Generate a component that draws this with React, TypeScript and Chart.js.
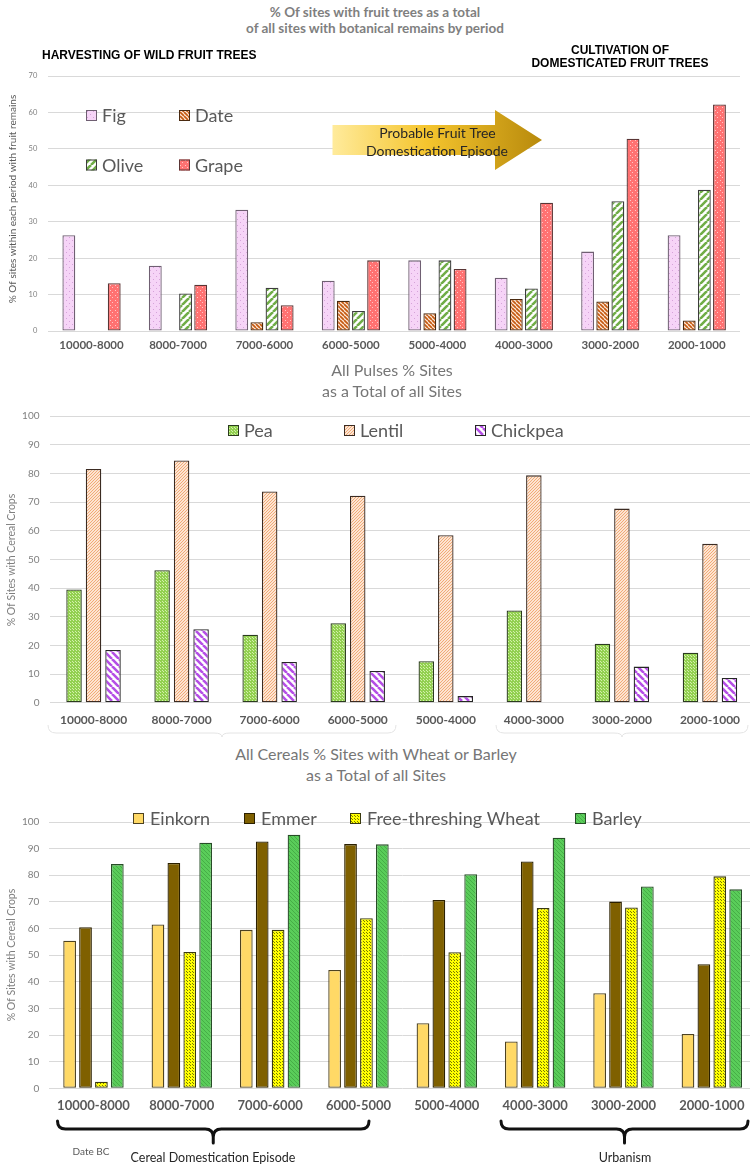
import React, { useEffect, useRef } from 'react';
import { Chart, registerables } from 'chart.js';

Chart.register(...registerables);

// ---------- data ----------
const periods = ['10000-8000', '8000-7000', '7000-6000', '6000-5000', '5000-4000', '4000-3000', '3000-2000', '2000-1000'];

const fig = [26.3, 17.9, 33.3, 13.8, 19.4, 14.6, 21.8, 26.3];
const date = [0, 0, 2.4, 8.3, 4.9, 8.8, 8.1, 2.9];
const olive = [0, 10.3, 11.9, 5.5, 19.4, 11.7, 35.6, 38.8];
const grape = [13.1, 12.7, 7.1, 19.4, 17.0, 35.2, 52.8, 62.2];

const pea = [39.5, 46.2, 23.7, 27.7, 14.5, 32.2, 20.6, 17.4];
const lentil = [81.5, 84.5, 73.7, 72.2, 58.4, 79.3, 67.7, 55.4];
const chickpea = [18.4, 25.6, 14.2, 11.1, 2.3, 0, 12.6, 8.6];

const einkorn = [55.4, 61.5, 59.5, 44.4, 24.4, 17.6, 35.7, 20.4];
const emmer = [60.5, 84.6, 92.7, 91.7, 70.7, 85.2, 70.1, 46.6];
const freeThreshing = [2.5, 51.2, 59.5, 63.9, 51.1, 67.7, 67.9, 79.6];
const barley = [84.2, 92.2, 95.2, 91.6, 80.4, 94.1, 75.8, 74.7];

const fruitMax = 70;
const pctMax = 100;
const tickStep = 10;

// ---------- helpers ----------
type Pat = { bg: string; kind: 'dots' | 'down' | 'up' | 'solid'; fg?: string; size?: number; lw?: number };

function makeFill(p: Pat): any {
  if (p.kind === 'solid') return p.bg;
  const s = p.size || 6;
  const c = document.createElement('canvas');
  c.width = s;
  c.height = s;
  const g = c.getContext('2d')!;
  g.fillStyle = p.bg;
  g.fillRect(0, 0, s, s);
  if (p.kind === 'dots') {
    g.fillStyle = p.fg!;
    g.fillRect(0, 0, 1, 1);
    g.fillRect(Math.floor(s / 2), Math.floor(s / 2), 1, 1);
  } else {
    g.strokeStyle = p.fg!;
    g.lineWidth = p.lw || 1;
    g.beginPath();
    for (let k = -1; k <= 1; k++) {
      if (p.kind === 'down') {
        g.moveTo(k * s, 0);
        g.lineTo(k * s + s, s);
      } else {
        g.moveTo(k * s, s);
        g.lineTo(k * s + s, 0);
      }
    }
    g.stroke();
  }
  return g.createPattern(c, 'repeat');
}

function ds(label: string, data: number[], fill: any, border: string) {
  return {
    label,
    data: data.map((v) => (v === 0 ? null : v)),
    backgroundColor: fill,
    borderColor: border,
    borderWidth: 1.3,
    borderSkipped: false,
  };
}

function xScale(size: number, pad: number, height: number) {
  return {
    type: 'category',
    offset: true,
    grid: { display: false, drawTicks: false },
    border: { display: false },
    ticks: { font: { family: 'Lato', size, weight: 'bold' }, color: '#595959', padding: pad, maxRotation: 0, autoSkip: false },
    afterFit: (s: any) => {
      s.height = height;
    },
  };
}

function yScale(max: number, size: number, pad: number, width: number) {
  return {
    min: 0,
    max,
    ticks: { stepSize: tickStep, font: { family: 'Lato', size }, color: '#7f7f7f', padding: pad },
    grid: { color: '#d9d9d9', drawTicks: false, lineWidth: 1 },
    border: { display: false },
    afterFit: (s: any) => {
      s.width = width;
    },
  };
}

type LegItem = { x: number; y: number; label: string; fill: any; border: string };

function drawLegend(ctx: CanvasRenderingContext2D, items: LegItem[], T: number, fs: number, gap: number) {
  ctx.save();
  ctx.font = `${fs}px Lato`;
  ctx.textBaseline = 'middle';
  ctx.textAlign = 'left';
  items.forEach((it) => {
    const by = it.y - T - 5.5;
    ctx.fillStyle = it.fill;
    ctx.fillRect(it.x, by, 11, 11);
    ctx.strokeStyle = it.border;
    ctx.lineWidth = 1;
    ctx.strokeRect(it.x + 0.5, by + 0.5, 10, 10);
    ctx.fillStyle = '#595959';
    ctx.fillText(it.label, it.x + 11 + gap, it.y - T + 1);
  });
  ctx.restore();
}

function drawYTitle(ctx: CanvasRenderingContext2D, text: string, x: number, cy: number, T: number, fs: number, color: string) {
  ctx.save();
  ctx.translate(x, cy - T);
  ctx.rotate(-Math.PI / 2);
  ctx.font = `${fs}px Lato`;
  ctx.fillStyle = color;
  ctx.textAlign = 'center';
  ctx.textBaseline = 'middle';
  ctx.fillText(text, 0, 0);
  ctx.restore();
}

function brace(ctx: CanvasRenderingContext2D, x0: number, x1: number, yTop: number, yMid: number, yTip: number) {
  const cx = (x0 + x1) / 2;
  const r = yMid - yTop;
  ctx.beginPath();
  ctx.moveTo(x0, yTop);
  ctx.quadraticCurveTo(x0, yMid, x0 + r, yMid);
  ctx.lineTo(cx - r, yMid);
  ctx.quadraticCurveTo(cx, yMid, cx, yMid + Math.min(r, yTip - yMid));
  ctx.lineTo(cx, yTip);
  ctx.moveTo(cx, yMid + Math.min(r, yTip - yMid));
  ctx.quadraticCurveTo(cx, yMid, cx + r, yMid);
  ctx.lineTo(x1 - r, yMid);
  ctx.quadraticCurveTo(x1, yMid, x1, yTop);
  ctx.stroke();
}

const T1 = 60;
const T2 = 400;
const T3 = 806;

export default function App() {
  const r1 = useRef<HTMLCanvasElement>(null);
  const r2 = useRef<HTMLCanvasElement>(null);
  const r3 = useRef<HTMLCanvasElement>(null);

  useEffect(() => {
    const figFill = makeFill({ kind: 'dots', bg: '#f6d4f7', fg: '#d6a3da', size: 6 });
    const dateFill = makeFill({ kind: 'down', bg: '#fde9d9', fg: '#c55a11', size: 4, lw: 1.7 });
    const oliveFill = makeFill({ kind: 'up', bg: '#ffffff', fg: '#70ad47', size: 7, lw: 2.6 });
    const grapeFill = makeFill({ kind: 'dots', bg: '#ff7272', fg: '#ffc6c6', size: 5 });

    const peaFill = makeFill({ kind: 'dots', bg: '#92d050', fg: '#d4f0ac', size: 3 });
    const lentilFill = makeFill({ kind: 'up', bg: '#fde4d2', fg: '#eea46c', size: 3, lw: 0.9 });
    const chickFill = makeFill({ kind: 'down', bg: '#ffffff', fg: '#b54fe6', size: 7, lw: 2.6 });

    const einFill = makeFill({ kind: 'solid', bg: '#ffd966' });
    const emmFill = makeFill({ kind: 'solid', bg: '#7f6000' });
    const ftwFill = makeFill({ kind: 'dots', bg: '#ffff00', fg: '#7a7a00', size: 3 });
    const barFill = makeFill({ kind: 'down', bg: '#5acd5a', fg: '#46ad46', size: 4, lw: 1 });

    const common = {
      responsive: false,
      animation: false,
      devicePixelRatio: 1,
      plugins: { legend: { display: false }, tooltip: { enabled: false }, title: { display: false } },
    };

    const p1 = {
      id: 'p1',
      afterDatasetsDraw(chart: any) {
        const ctx = chart.ctx as CanvasRenderingContext2D;
        ctx.save();
        const g = ctx.createLinearGradient(332, 0, 542, 0);
        g.addColorStop(0, '#ffeb9c');
        g.addColorStop(0.45, '#f5c52e');
        g.addColorStop(1, '#b88a0c');
        ctx.beginPath();
        ctx.moveTo(332.5, 125 - T1);
        ctx.lineTo(495, 125 - T1);
        ctx.lineTo(495, 110 - T1);
        ctx.lineTo(542, 140 - T1);
        ctx.lineTo(495, 170 - T1);
        ctx.lineTo(495, 155 - T1);
        ctx.lineTo(332.5, 155 - T1);
        ctx.closePath();
        ctx.fillStyle = g;
        ctx.fill();
        ctx.font = '14px Lato';
        ctx.fillStyle = '#262626';
        ctx.textAlign = 'center';
        ctx.textBaseline = 'middle';
        ctx.fillText('Probable Fruit Tree', 437.5, 133 - T1);
        ctx.fillText('Domestication Episode', 437, 151 - T1);
        ctx.restore();

        drawLegend(
          ctx,
          [
            { x: 86, y: 115.5, label: 'Fig', fill: figFill, border: '#6f5f72' },
            { x: 179, y: 115.5, label: 'Date', fill: dateFill, border: '#4a2a10' },
            { x: 86, y: 165, label: 'Olive', fill: oliveFill, border: '#3d3d3d' },
            { x: 179, y: 165, label: 'Grape', fill: grapeFill, border: '#5a3535' },
          ],
          T1,
          18,
          5
        );
        drawYTitle(ctx, '% Of sites within each period with fruit remains', 12.5, 199, T1, 10, '#595959');
      },
    };

    const p2 = {
      id: 'p2',
      afterDatasetsDraw(chart: any) {
        const ctx = chart.ctx as CanvasRenderingContext2D;
        drawLegend(
          ctx,
          [
            { x: 228, y: 430.5, label: 'Pea', fill: peaFill, border: '#2b3b1f' },
            { x: 344, y: 430.5, label: 'Lentil', fill: lentilFill, border: '#3b2b22' },
            { x: 475, y: 430.5, label: 'Chickpea', fill: chickFill, border: '#262626' },
          ],
          T2,
          18,
          5
        );
        drawYTitle(ctx, '% Of Sites with Cereal Crops', 12, 560, T2, 10.5, '#7f7f7f');
        ctx.save();
        ctx.strokeStyle = '#e4e4e4';
        ctx.lineWidth = 1;
        brace(ctx, 48, 396, 725 - T2, 733 - T2, 737 - T2);
        brace(ctx, 496, 748, 725 - T2, 733 - T2, 737 - T2);
        ctx.restore();
      },
    };

    const p3 = {
      id: 'p3',
      afterDatasetsDraw(chart: any) {
        const ctx = chart.ctx as CanvasRenderingContext2D;
        drawLegend(
          ctx,
          [
            { x: 133, y: 818.5, label: 'Einkorn', fill: einFill, border: '#4d4220' },
            { x: 244, y: 818.5, label: 'Emmer', fill: emmFill, border: '#2b2000' },
            { x: 350, y: 818.5, label: 'Free-threshing Wheat', fill: ftwFill, border: '#3a3a10' },
            { x: 575, y: 818.5, label: 'Barley', fill: barFill, border: '#274d27' },
          ],
          T3,
          18,
          6
        );
        drawYTitle(ctx, '% Of Sites with Cereal Crops', 12, 955, T3, 10.5, '#7f7f7f');
        ctx.save();
        ctx.strokeStyle = '#111111';
        ctx.lineWidth = 3;
        ctx.lineCap = 'round';
        ctx.lineJoin = 'round';
        brace(ctx, 57.5, 369, 1121 - T3, 1129 - T3, 1143 - T3);
        brace(ctx, 501, 748, 1121 - T3, 1129 - T3, 1143 - T3);
        ctx.restore();
      },
    };

    const charts: Chart[] = [];

    charts.push(
      new Chart(r1.current!, {
        type: 'bar',
        data: {
          labels: periods,
          datasets: [
            ds('Fig', fig, figFill, '#6f5f72'),
            ds('Date', date, dateFill, '#4a2a10'),
            ds('Olive', olive, oliveFill, '#3d3d3d'),
            ds('Grape', grape, grapeFill, '#5a3535'),
          ],
        },
        options: {
          ...common,
          layout: { padding: { top: 16, right: 10, bottom: 0, left: 0 } },
          datasets: { bar: { categoryPercentage: 0.7, barPercentage: 0.85 } },
          scales: { x: xScale(11.5, 7, 30), y: yScale(fruitMax, 7.5, 11, 48.3) },
        } as any,
        plugins: [p1],
      } as any)
    );

    charts.push(
      new Chart(r2.current!, {
        type: 'bar',
        data: {
          labels: periods,
          datasets: [
            ds('Pea', pea, peaFill, '#2b3b1f'),
            ds('Lentil', lentil, lentilFill, '#3b2b22'),
            ds('Chickpea', chickpea, chickFill, '#262626'),
          ],
        },
        options: {
          ...common,
          layout: { padding: { top: 16, right: 6, bottom: 0, left: 0 } },
          datasets: { bar: { categoryPercentage: 0.664, barPercentage: 0.795 } },
          scales: { x: xScale(12, 10, 40.3), y: yScale(pctMax, 10, 10, 49.5) },
        } as any,
        plugins: [p2],
      } as any)
    );

    charts.push(
      new Chart(r3.current!, {
        type: 'bar',
        data: {
          labels: periods,
          datasets: [
            ds('Einkorn', einkorn, einFill, '#4d4220'),
            ds('Emmer', emmer, emmFill, '#2b2000'),
            ds('Free-threshing Wheat', freeThreshing, ftwFill, '#3a3a10'),
            ds('Barley', barley, barFill, '#274d27'),
          ],
        },
        options: {
          ...common,
          layout: { padding: { top: 15.7, right: 4, bottom: 0, left: 0 } },
          datasets: { bar: { categoryPercentage: 0.72, barPercentage: 0.8 } },
          scales: { x: xScale(13, 10, 79.7), y: yScale(pctMax, 10, 10, 49.3) },
        } as any,
        plugins: [p3],
      } as any)
    );

    return () => charts.forEach((c) => c.destroy());
  }, []);

  const abs = (extra: any) => ({ position: 'absolute', margin: 0, padding: 0, whiteSpace: 'nowrap', ...extra });

  return (
    <div style={{ position: 'absolute', left: 0, top: 0, width: 750, height: 1168, overflow: 'hidden', background: '#ffffff' }}>
      <canvas ref={r1} width={750} height={301} style={{ position: 'absolute', left: 0, top: T1, width: 750, height: 301 }} />
      <canvas ref={r2} width={760} height={343} style={{ position: 'absolute', left: 0, top: T2, width: 760, height: 343 }} />
      <canvas ref={r3} width={760} height={362} style={{ position: 'absolute', left: 0, top: T3, width: 760, height: 362 }} />

      <div style={abs({ left: 0, top: 4, width: 750, textAlign: 'center', font: 'bold 13.5px Lato', lineHeight: '16px', color: '#7f7f7f' })}>
        % Of sites with fruit trees as a total
        <br />
        of all sites with botanical remains by period
      </div>
      <div style={abs({ left: 42, top: 48, font: 'bold 12px "Liberation Sans", Arial, sans-serif', lineHeight: '14px', color: '#000' })}>
        HARVESTING OF WILD FRUIT TREES
      </div>
      <div style={abs({ left: 520, top: 43.5, width: 200, textAlign: 'center', font: 'bold 12px "Liberation Sans", Arial, sans-serif', lineHeight: '13px', color: '#000' })}>
        CULTIVATION OF
        <br />
        DOMESTICATED FRUIT TREES
      </div>
      <div style={abs({ left: 242, top: 358.5, width: 300, textAlign: 'center', font: '16px Lato', lineHeight: '21px', color: '#767676' })}>
        All Pulses % Sites
        <br />
        as a Total of all Sites
      </div>
      <div style={abs({ left: 176, top: 742.5, width: 400, textAlign: 'center', font: '16px Lato', lineHeight: '21px', color: '#767676' })}>
        All Cereals % Sites with Wheat or Barley
        <br />
        as a Total of all Sites
      </div>
      <div style={abs({ left: 41, top: 1144, width: 100, textAlign: 'center', font: '10px Lato', lineHeight: '14px', color: '#595959' })}>
        Date BC
      </div>
      <div style={abs({ left: 113, top: 1150, width: 200, textAlign: 'center', font: '12.5px Lato', lineHeight: '16px', color: '#262626' })}>
        Cereal Domestication Episode
      </div>
      <div style={abs({ left: 525, top: 1150, width: 200, textAlign: 'center', font: '12.5px Lato', lineHeight: '16px', color: '#262626' })}>
        Urbanism
      </div>
    </div>
  );
}
